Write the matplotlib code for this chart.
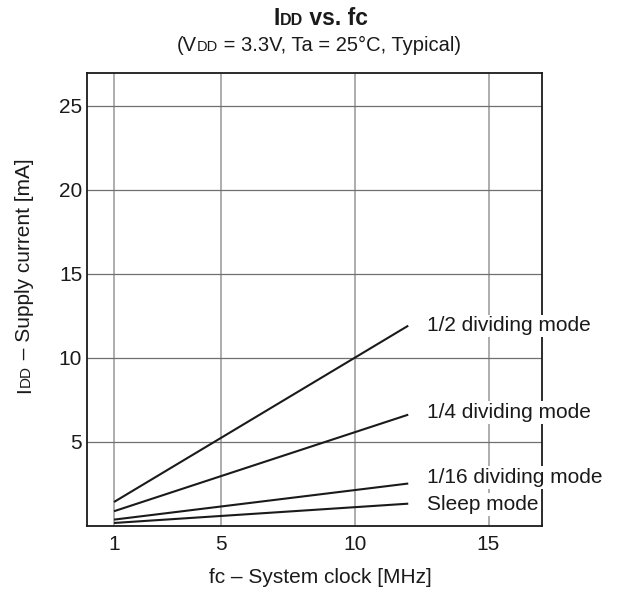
import matplotlib
matplotlib.use('Agg')
from matplotlib import pyplot as plt
from matplotlib.transforms import IdentityTransform

plt.rcParams['font.family'] = ['Liberation Sans', 'DejaVu Sans']

# data (straight lines from 1 to 12 MHz)
fc = [1, 12]
idd_half = [1.4, 11.9]
idd_quarter = [0.85, 6.6]
idd_sixteenth = [0.35, 2.5]
idd_sleep = [0.15, 1.3]

series_names = ['1/2 dividing mode', '1/4 dividing mode',
                '1/16 dividing mode', 'Sleep mode']
series_values = [idd_half, idd_quarter, idd_sixteenth, idd_sleep]

x_ticks = [1, 5, 10, 15]
y_ticks = [5, 10, 15, 20, 25]

# where the curve names sit (data coords, baseline)
label_x = 12.7
label_y = [11.57, 6.41, 2.54, 0.93]

W, H = 618, 601


def mixed_text(fig, xc, yc, parts, rotation=0):
    ''' draw text made of pieces with different sizes on one baseline,
    centred on (xc, yc) in pixels from the bottom left '''
    r = fig.canvas.get_renderer()
    widths = []
    for s, size, weight in parts:
        t = fig.text(0, 0, s, fontsize=size, fontweight=weight)
        widths.append(t.get_window_extent(r).width)
        t.remove()
    pos = -sum(widths) / 2.
    for (s, size, weight), w in zip(parts, widths):
        if rotation == 0:
            x, y = xc + pos, yc
        else:
            x, y = xc, yc + pos
        fig.text(x, y, s, fontsize=size, fontweight=weight, color='#1a1a1a',
                 rotation=rotation, rotation_mode='anchor',
                 ha='left', va='baseline', transform=IdentityTransform())
        pos += w


fig = plt.figure(figsize=(W / 100., H / 100.), dpi=100)
ax = fig.add_axes([87.25 / W, 1 - 525.5 / H, (542 - 87.25) / W, (525.5 - 73.3) / H])

for v in series_values:
    ax.plot(fc, v, color='#1a1a1a', lw=1.5, solid_capstyle='butt', zorder=3)

for x in x_ticks:
    ax.axvline(x, color='#a0a0a0', lw=1.2, zorder=1)
for y in y_ticks:
    ax.axhline(y, color='#707070', lw=0.9, zorder=1)

for name, y in zip(series_names, label_y):
    ax.text(label_x, y, name, fontsize=15, ha='left', va='baseline',
            color='#1a1a1a', clip_on=False, zorder=5,
            bbox=dict(boxstyle='square,pad=0.08', fc='white', ec='none'))

ax.set_xlim(0, 17)
ax.set_ylim(0, 26.93)
ax.set_xticks(x_ticks)
ax.set_yticks(y_ticks)
ax.tick_params(length=0, labelsize=15, colors='#1a1a1a')
ax.tick_params(axis='x', pad=7)
ax.tick_params(axis='y', pad=3.6)
for s in ax.spines.values():
    s.set_linewidth(1.3)
    s.set_color('#1a1a1a')

# titles and axis labels with the small "DD"
mixed_text(fig, 321, H - 25, [('I', 16.5, 'bold'), ('DD', 11.5, 'bold'),
                               (' vs. fc', 16.5, 'bold')])
mixed_text(fig, 318.5, H - 51, [('(V', 14.5, 'normal'), ('DD', 10.5, 'normal'),
                                 (' = 3.3V, Ta = 25°C, Typical)', 14.5, 'normal')])
mixed_text(fig, 30, H - 276, [('I', 15, 'normal'), ('DD', 11, 'normal'),
                               (' – Supply current [mA]', 15, 'normal')], rotation=90)
fig.text(320, H - 583, 'fc – System clock [MHz]', fontsize=15, ha='center',
         va='baseline', color='#1a1a1a', transform=IdentityTransform())

plt.savefig('out.png', dpi=100)
